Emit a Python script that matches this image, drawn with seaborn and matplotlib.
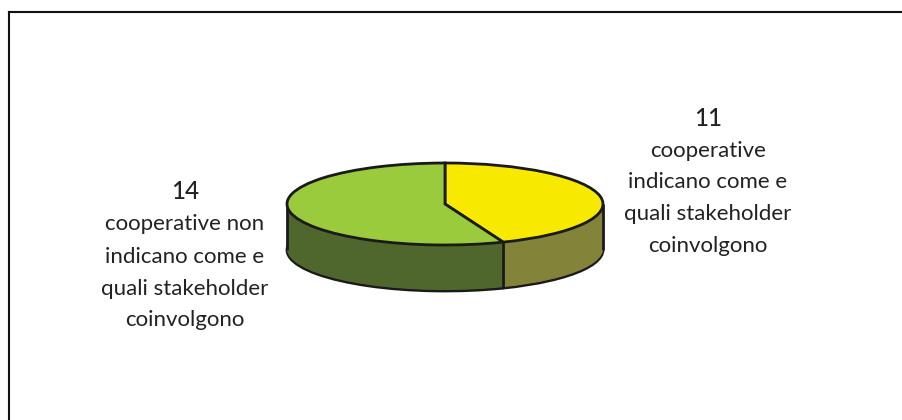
import numpy as np
import matplotlib
matplotlib.use("Agg")
import matplotlib.pyplot as plt
import seaborn as sns

values = [11, 14]
top_colors = ["#f7ea00", "#9acb3c"]
wall_colors = ["#84833a", "#4f672c"]
label_numbers = ["11", "14"]
label_lines = [
    ["cooperative", "indicano come e", "quali stakeholder", "coinvolgono"],
    ["cooperative non", "indicano come e", "quali stakeholder", "coinvolgono"],
]

sns.set_theme(style="white")
plt.rcParams["font.family"] = ["Lato", "DejaVu Sans"]

W, H = 903, 420
CX, CY, RX, RY, DEPTH = 445, 204, 158, 41, 46
fig = plt.figure(figsize=(W / 100, H / 100), dpi=100, facecolor="white")
ax = fig.add_axes([9 / W, 0, (W - 9) / W, (H - 12) / H])

d = DEPTH / RY
pie_kw = dict(startangle=90, counterclock=False, radius=1.0)
# bottom rim
ax.pie(values, colors=wall_colors, center=(0, -d), frame=False,
       wedgeprops=dict(edgecolor="#1a1a1a", linewidth=2.0), **pie_kw)
# side wall, deepest layer first
for off in np.linspace(0, d - 1 / RY, DEPTH)[::-1]:
    ax.pie(values, colors=wall_colors, center=(0, -off),
           wedgeprops=dict(linewidth=0), **pie_kw)
# wall edges
theta = np.pi / 2 - 2 * np.pi * values[0] / sum(values)
lk = dict(color="#1a1a1a", lw=2.0, solid_capstyle="butt", zorder=5)
for xe in (-1, 1):
    ax.plot([xe, xe], [0, -d], **lk)
ax.plot([np.cos(theta)] * 2, [np.sin(theta), np.sin(theta) - d], **lk)
# top face
ax.pie(values, colors=top_colors, center=(0, 0),
       wedgeprops=dict(edgecolor="#1a1a1a", linewidth=2.0, zorder=6), **pie_kw)

ax.set_aspect("auto")
ax.set_xlim((9 - CX) / RX, (W - CX) / RX)
ax.set_ylim((CY - H) / RY, (CY - 12) / RY)
ax.set_xticks([])
ax.set_yticks([])
ax.set_frame_on(True)
for side in ("right", "bottom"):
    ax.spines[side].set_visible(False)
for side in ("left", "top"):
    ax.spines[side].set_visible(True)
    ax.spines[side].set_color("#111111")
    ax.spines[side].set_linewidth(1.5)

def put(x, y, s, **kw):
    fig.text(x / W, 1 - y / H, s, ha="center", va="center", color="#222222", **kw)

positions = [(708, 118, [151, 182, 214, 246]), (185, 192, [224, 257, 289, 320])]
for num, lines, (x, yn, ys) in zip(label_numbers, label_lines, positions):
    put(x, yn, num, fontsize=17.5, fontweight="medium")
    for y, line in zip(ys, lines):
        put(x, y, line, fontsize=16)

fig.savefig("out.png", dpi=100)
